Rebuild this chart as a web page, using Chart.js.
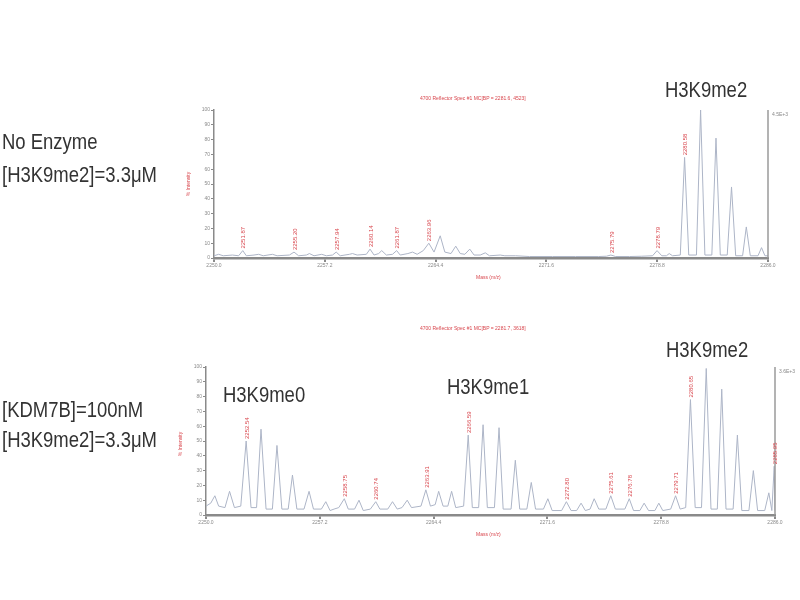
<!DOCTYPE html>
<html><head><meta charset="utf-8">
<script src="https://cdn.jsdelivr.net/npm/chart.js@4.4.0/dist/chart.umd.min.js"></script>
<style>
html,body{margin:0;padding:0;background:#fff;width:800px;height:600px;overflow:hidden;position:relative;}
.lbl{position:absolute;font-family:"Liberation Sans",Arial,sans-serif;font-size:22px;line-height:22px;color:#333;white-space:nowrap;transform:scaleX(0.84);transform-origin:left center;}
.red{position:absolute;font-family:"Liberation Sans",Arial,sans-serif;font-size:5px;line-height:6px;color:#d8454c;white-space:nowrap;}
.grey{position:absolute;font-family:"Liberation Sans",Arial,sans-serif;font-size:5px;line-height:6px;color:#888;white-space:nowrap;}
canvas{position:absolute;left:0;}
</style></head>
<body>
<canvas id="cTop" width="800" height="300" style="top:0"></canvas>
<canvas id="cBot" width="800" height="300" style="top:300px"></canvas>

<div class="lbl" style="left:2px;top:131px">No Enzyme</div>
<div class="lbl" style="left:2px;top:164px">[H3K9me2]=3.3μM</div>
<div class="lbl" style="left:2px;top:399px">[KDM7B]=100nM</div>
<div class="lbl" style="left:2px;top:429px">[H3K9me2]=3.3μM</div>
<div class="lbl" style="left:665px;top:79px">H3K9me2</div>
<div class="lbl" style="left:223px;top:384px">H3K9me0</div>
<div class="lbl" style="left:447px;top:376px">H3K9me1</div>
<div class="lbl" style="left:666px;top:339px">H3K9me2</div>

<div class="red" style="left:420px;top:95px">4700 Reflector Spec #1 MC[BP = 2281.6, 4523]</div>
<div class="red" style="left:420px;top:325px">4700 Reflector Spec #1 MC[BP = 2281.7, 3618]</div>
<div class="red" style="left:476px;top:274px">Mass (m/z)</div>
<div class="red" style="left:476px;top:531px">Mass (m/z)</div>
<div class="red" style="left:176px;top:181px;transform:rotate(-90deg);transform-origin:center">% Intensity</div>
<div class="red" style="left:168px;top:441px;transform:rotate(-90deg);transform-origin:center">% Intensity</div>
<div class="grey" style="left:772px;top:111px">4.5E+3</div>
<div class="grey" style="left:779px;top:368px">3.6E+3</div>

<script>
// ---- Data (m/z, % intensity) ----
const xTickValues = [2250.0, 2257.2, 2264.4, 2271.6, 2278.8, 2286.0];

const topMz = [2250.0,2250.3,2250.6,2251.2,2251.6,2251.87,2252.1,2252.6,2252.9,2253.2,2253.8,2254.1,2254.9,2255.2,2255.5,2256.0,2256.2,2256.5,2257.0,2257.3,2257.7,2257.94,2258.2,2258.8,2259.0,2259.3,2259.9,2260.14,2260.4,2260.7,2260.9,2261.2,2261.6,2261.87,2262.1,2262.6,2262.9,2263.2,2263.6,2263.96,2264.3,2264.70,2265.0,2265.4,2265.71,2266.0,2266.3,2266.62,2266.9,2267.3,2267.63,2267.9,2268.6,2268.9,2269.6,2270.5,2272.0,2273.5,2275.0,2275.5,2275.79,2276.1,2277.0,2277.8,2278.5,2278.79,2279.1,2279.4,2279.58,2279.8,2280.3,2280.58,2280.85,2281.35,2281.62,2281.9,2282.35,2282.62,2282.9,2283.35,2283.63,2283.9,2284.35,2284.59,2284.85,2285.35,2285.58,2285.8,2286.0];
const topInt = [1.5,2.5,1.5,2,1.5,5,1.5,2,2.5,1.5,2.5,1.5,2,4,1.5,2,3,1.5,2.5,1.5,2,4,1.5,2.5,3,2,2.5,6,2,3,5,2,2.5,5,2,3,4,2.5,5,10,4,15,4,3,8,3,2.5,6,2,2,3.5,1.5,2,1.5,1.5,1,1,1,1,1.2,2,1,1,1.2,1.5,5,1.5,1.5,3,1.5,2,68,2,2,100,2,2,81,2,2,48,1.5,1.5,21,1.5,1.5,7,1.5,1.5];
const topLabelMz = [2251.87,2255.2,2257.94,2260.14,2261.87,2263.96,2275.79,2278.79,2280.58];

const botMz = [2250.0,2250.3,2250.56,2250.8,2251.2,2251.49,2251.8,2252.2,2252.54,2252.85,2253.2,2253.48,2253.8,2254.2,2254.49,2254.8,2255.2,2255.47,2255.75,2256.2,2256.52,2256.8,2257.3,2257.58,2257.85,2258.1,2258.4,2258.75,2259.0,2259.4,2259.68,2259.95,2260.4,2260.74,2261.0,2261.5,2261.80,2262.1,2262.4,2262.73,2263.0,2263.6,2263.91,2264.2,2264.5,2264.72,2265.0,2265.3,2265.54,2265.8,2266.3,2266.59,2266.85,2267.25,2267.53,2267.8,2268.25,2268.54,2268.8,2269.3,2269.57,2269.85,2270.3,2270.58,2270.85,2271.35,2271.63,2271.9,2272.5,2272.80,2273.1,2273.45,2273.73,2274.0,2274.3,2274.56,2274.85,2275.3,2275.61,2275.9,2276.5,2276.78,2277.05,2277.45,2277.72,2278.0,2278.4,2278.65,2278.9,2279.4,2279.71,2280.0,2280.35,2280.65,2280.95,2281.35,2281.65,2281.95,2282.35,2282.63,2282.9,2283.35,2283.62,2283.9,2284.35,2284.63,2284.9,2285.35,2285.61,2285.8,2285.95,2286.0];
const botInt = [6,8,13,6,5,16,5,6,50,5,5,58,4,4,47,4,4,27,4,4,16,4,4,9,3,4,5,11,4,4,10,3,4,9,4,4,9,4,5,10,5,6,17,6,7,16,6,6,16,5,6,54,5,5,61,5,5,59,4,4,37,4,4,22,4,4,11,3,3,9,3,3,8,3,4,11,4,4,13,4,4,11,3,3,8,3,3,8,3,4,13,4,5,78,5,5,99,4,4,85,4,4,54,3,3,30,3,3,15,3,33,3];
const botLabelMz = [2252.54,2258.75,2260.74,2263.91,2266.59,2272.8,2275.61,2276.78,2279.71,2280.65,2285.95];

// ---- chart helpers ----
const peakLabelPlugin = {
  id: 'peakLabels',
  afterDatasetsDraw(chart, args, opts) {
    const {ctx, chartArea, scales: {x, y}} = chart;
    const ds = chart.data.datasets[0].data;
    ctx.save();
    ctx.strokeStyle = '#9a9a9a'; ctx.lineWidth = 1.5;
    ctx.beginPath();
    ctx.moveTo(chartArea.right, chartArea.top);
    ctx.lineTo(chartArea.right, chartArea.bottom);
    ctx.stroke();
    ctx.fillStyle = '#d8454c';
    ctx.font = '6px "Liberation Sans", Arial, sans-serif';
    ctx.textAlign = 'left'; ctx.textBaseline = 'middle';
    (opts.masses || []).forEach(m => {
      const pt = ds.find(p => p.x === m);
      const px = x.getPixelForValue(m);
      const py = y.getPixelForValue(pt ? pt.y : 0);
      ctx.save();
      ctx.translate(px + 1, py - 2);
      ctx.rotate(-Math.PI / 2);
      ctx.fillText(m.toFixed(2), 0, 0);
      ctx.restore();
    });
    ctx.restore();
  }
};

function makeChart(id, mz, inten, labels, pad) {
  const pts = mz.map((v, i) => ({x: v, y: inten[i]}));
  return new Chart(document.getElementById(id), {
    type: 'line',
    data: {datasets: [{data: pts, borderColor: '#adb5c7', borderWidth: 1, pointRadius: 0, tension: 0, fill: false}]},
    options: {
      responsive: false, animation: false,
      layout: {padding: pad},
      plugins: {legend: {display: false}, tooltip: {enabled: false}, peakLabels: {masses: labels}},
      scales: {
        x: {
          type: 'linear', min: xTickValues[0], max: xTickValues[xTickValues.length - 1],
          afterBuildTicks: s => { s.ticks = xTickValues.map(v => ({value: v})); },
          afterFit: s => { s.height = 14; },
          ticks: {font: {size: 5, family: 'Liberation Sans'}, color: '#8a8a8a', padding: 1, maxRotation: 0,
                  callback: v => Number(v).toFixed(1)},
          grid: {drawOnChartArea: false, drawTicks: true, tickLength: 4, color: '#8a8a8a', lineWidth: 2},
          border: {color: '#8a8a8a', width: 2.5}
        },
        y: {
          min: 0, max: 100,
          afterFit: s => { s.width = 20; },
          ticks: {stepSize: 10, font: {size: 5, family: 'Liberation Sans'}, color: '#8a8a8a', padding: 1},
          grid: {drawOnChartArea: false, drawTicks: true, tickLength: 3, color: '#8a8a8a', lineWidth: 1},
          border: {color: '#8a8a8a', width: 1.5}
        }
      }
    },
    plugins: [peakLabelPlugin]
  });
}

makeChart('cTop', topMz, topInt, topLabelMz, {left: 194, right: 32, top: 110, bottom: 28});
makeChart('cBot', botMz, botInt, botLabelMz, {left: 186, right: 25, top: 67, bottom: 71});
</script>
</body></html>
